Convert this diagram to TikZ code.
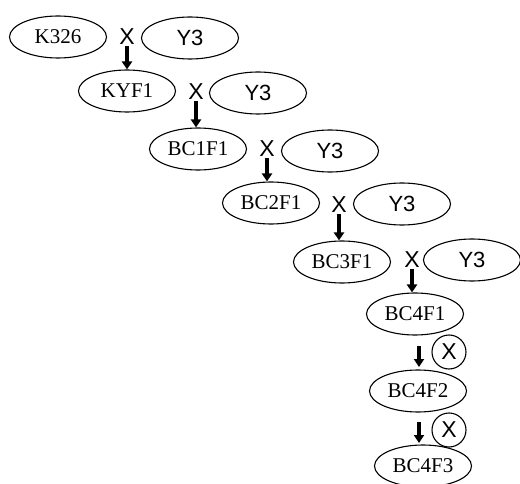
\documentclass[tikz,border=0pt]{standalone}
\usepackage{fontspec}
\setmainfont{Liberation Serif}
\newfontfamily\sansf{Liberation Sans}
\usetikzlibrary{shapes.geometric,arrows.meta}
\begin{document}
\begin{tikzpicture}[x=1pt,y=-1pt,
  gen/.style={draw,ellipse,line width=1.1pt,minimum width=97pt,minimum height=42pt,inner sep=0pt,font=\fontsize{21}{21}\selectfont},
  parent/.style={gen,font=\sansf\fontsize{22}{22}\selectfont},
  cross/.style={inner sep=0pt,font=\sansf\fontsize{23}{23}\selectfont},
  selfx/.style={draw,circle,line width=1.1pt,minimum size=34pt,inner sep=0pt,font=\sansf\fontsize{23}{23}\selectfont},
  flow/.style={line width=3.2pt,-{Triangle[length=8pt,width=10pt]}}]
\useasboundingbox (0,0) rectangle (520,484);
% row 1
\node[gen] (k326) at (58,37) {K326};
\node[cross] (x1) at (127,37) {X};
\node[parent] (y1) at (190,38) {Y3};
% row 2
\node[gen] (kyf1) at (127,91) {KYF1};
\node[cross] (x2) at (196,92) {X};
\node[parent] (y2) at (258,93) {Y3};
% row 3
\node[gen] (bc1) at (198,149) {BC1F1};
\node[cross] (x3) at (267,149) {X};
\node[parent] (y3) at (330,151) {Y3};
% row 4
\node[gen] (bc2) at (271,203) {BC2F1};
\node[cross] (x4) at (339,205) {X};
\node[parent] (y4) at (402,204) {Y3};
% row 5
\node[gen] (bc3) at (342,262) {BC3F1};
\node[cross] (x5) at (412,260) {X};
\node[parent] (y5) at (472,260) {Y3};
% column
\node[gen] (bc4a) at (415,314) {BC4F1};
\node[gen] (bc4b) at (418,391) {BC4F2};
\node[gen] (bc4c) at (423,466) {BC4F3};
\node[selfx] (s1) at (449,352) {X};
\node[selfx] (s2) at (449,430) {X};
\coordinate (a1s) at (419,346);
\coordinate (a1e) at (419,367);
\coordinate (a2s) at (419,422);
\coordinate (a2e) at (419,443);
% arrows
\draw[flow] ([yshift=-1pt]x1.south) -- (x1.south |- kyf1.north);
\draw[flow] ([yshift=-1pt]x2.south) -- (x2.south |- bc1.north);
\draw[flow] ([yshift=-1pt]x3.south) -- (x3.south |- bc2.north);
\draw[flow] ([yshift=-1pt]x4.south) -- (x4.south |- bc3.north);
\draw[flow] ([yshift=-1pt]x5.south) -- (x5.south |- bc4a.north);
\draw[flow] (a1s) -- (a1e);
\draw[flow] (a2s) -- (a2e);
\end{tikzpicture}
\end{document}
